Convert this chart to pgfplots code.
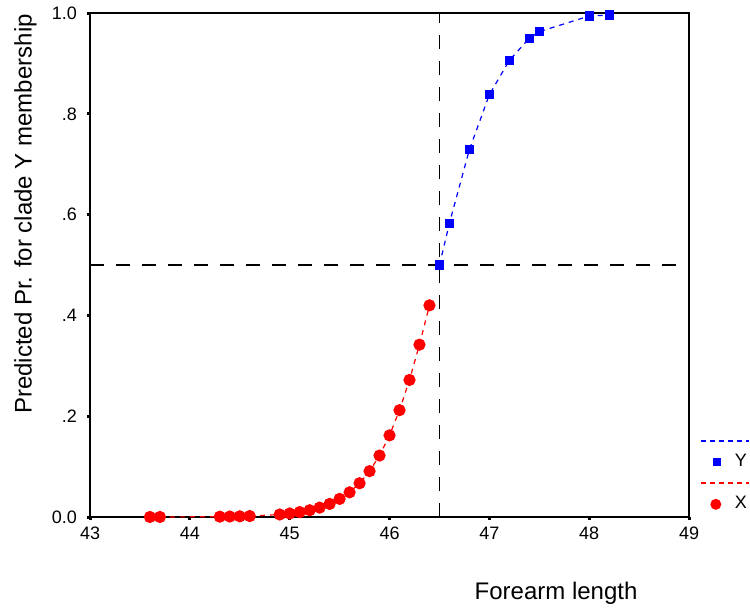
\documentclass[border=0pt]{standalone}
\usepackage{pgfplots}
\pgfplotsset{compat=1.18}
\usepackage{fontspec}
\setmainfont{Liberation Sans}

% predicted probability, clade X (red) and clade Y (blue)
\pgfplotstableread{
x y
43.6 0.0001
43.7 0.0001
44.3 0.0007
44.4 0.0010
44.5 0.0014
44.6 0.0019
44.9 0.0050
45.0 0.0070
45.1 0.0098
45.2 0.0135
45.3 0.0187
45.4 0.0260
45.5 0.0360
45.6 0.0490
45.7 0.0670
45.8 0.0910
45.9 0.1220
46.0 0.1620
46.1 0.2120
46.2 0.2720
46.3 0.3420
46.4 0.4200
}\cladeX

\pgfplotstableread{
x y
46.5 0.500
46.6 0.583
46.8 0.729
47.0 0.838
47.2 0.906
47.4 0.950
47.5 0.963
48.0 0.994
48.2 0.996
}\cladeY

\begin{document}
\begin{tikzpicture}
\begin{axis}[
    scale only axis,
    width=299.5pt, height=252pt,
    xmin=43, xmax=49, ymin=0, ymax=1,
    xtick={43,44,45,46,47,48,49},
    ytick={0,0.2,0.4,0.6,0.8,1},
    yticklabels={0.0,.2,.4,.6,.8,1.0},
    xtick pos=bottom, ytick pos=left,
    tick align=outside,
    major tick length=1.5pt,
    every tick/.style={black, line width=1.5pt},
    axis line style={line width=1pt},
    tick label style={font=\fontsize{9}{10}\selectfont},
    yticklabel style={xshift=-1.5pt},
    /pgf/number format/assume math mode=true,
    clip=false,
    xlabel={Forearm length},
    xlabel style={at={(axis description cs:0.778,-0.151)}, anchor=center,
        font=\fontsize{12}{14}\selectfont},
    ylabel={Predicted Pr. for clade Y membership},
    ylabel style={at={(axis description cs:-0.108,0.601)}, anchor=center,
        font=\fontsize{12}{14}\selectfont},
    legend style={at={(axis description cs:1.018,0.171)}, anchor=north west,
        draw=none, fill=none, font=\fontsize{9}{10}\selectfont,
        inner sep=0pt, outer sep=0pt, row sep=0pt, column sep=0pt,
        nodes={inner sep=0pt, text height=7.5pt, text depth=3pt}},
    legend cell align=left,
]
\addplot[red, line width=0.6pt, dash pattern=on 2.5pt off 2.5pt,
    mark=*, mark size=2.75pt, mark options={solid}, forget plot] table {\cladeX};
\addplot[blue, line width=0.6pt, dash pattern=on 2.5pt off 2.5pt,
    mark=square*, mark size=2pt, mark options={solid}, forget plot] table {\cladeY};

% cut-off lines
\addplot[black, line width=0.9pt, dash pattern=on 7pt off 6pt, forget plot]
    coordinates {(46.5,0) (46.5,1)};
\addplot[black, line width=0.9pt, dash pattern=on 7pt off 6pt, forget plot]
    coordinates {(43,0.5) (49,0.5)};

% SPSS-style legend
\addlegendimage{legend image code/.code={
    \path[draw=none, fill=none] (0pt,0pt) -- (17.5pt,0pt);
    \draw[overlay, draw=blue, solid, line width=1pt, dash pattern=on 2.5pt off 2pt] (0.5pt,0.25pt) -- (24.5pt,0.25pt);}}
\addlegendentry{}
\addlegendimage{legend image code/.code={
    \path[draw=none, fill=none] (0pt,0pt) -- (17.5pt,0pt);
    \path[draw=none, fill=blue] (6.5pt,-2pt) rectangle (10.5pt,2pt);}}
\addlegendentry{Y}
\addlegendimage{legend image code/.code={
    \path[draw=none, fill=none] (0pt,0pt) -- (17.5pt,0pt);
    \draw[overlay, draw=red, solid, line width=1pt, dash pattern=on 2.5pt off 2pt] (0.5pt,0.25pt) -- (24.5pt,0.25pt);}}
\addlegendentry{}
\addlegendimage{legend image code/.code={
    \path[draw=none, fill=none] (0pt,0pt) -- (17.5pt,0pt);
    \path[draw=none, fill=red] (8pt,0pt) circle (2.75pt);}}
\addlegendentry{X}

\path (axis description cs:-0.1503,-0.1786) rectangle (axis description cs:1.1018,1.0238);
\end{axis}
\end{tikzpicture}
\end{document}
